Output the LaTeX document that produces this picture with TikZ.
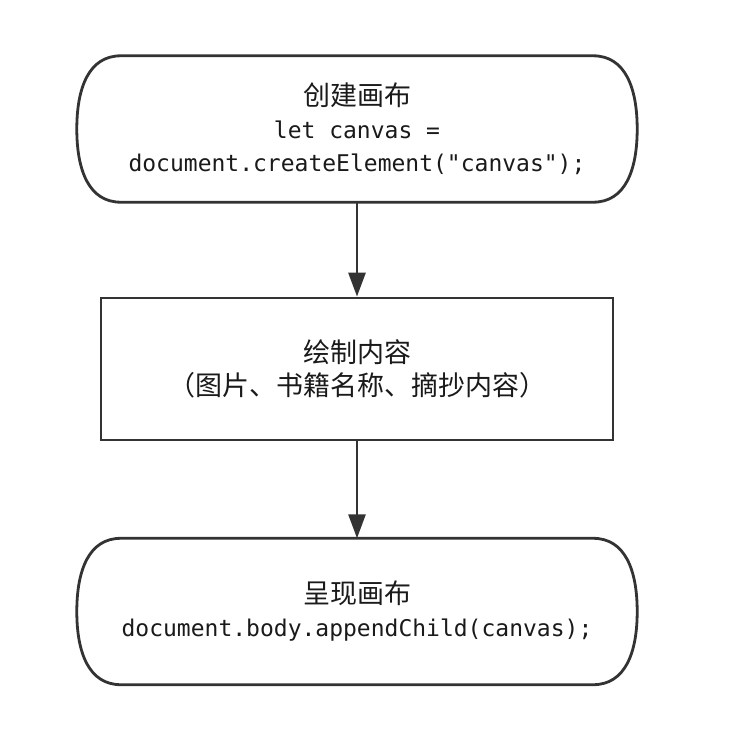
\documentclass[tikz,border=0pt]{standalone}
\usepackage{fontspec}
\usetikzlibrary{arrows.meta}
\newfontfamily\cjk{Noto Sans CJK SC}
\setmonofont{DejaVu Sans Mono}
\definecolor{stroke}{HTML}{333333}
\definecolor{ink}{HTML}{1A1A1A}
\tikzset{
  flowtext/.style={text=ink, align=center, font=\fontsize{23}{33}\selectfont\ttfamily, inner sep=0pt},
  terminal/.style={flowtext, minimum width=560pt, minimum height=146pt},
  procbox/.style={flowtext, draw=stroke, line width=2.8pt, minimum width=512pt, minimum height=142pt},
  flowline/.style={draw=stroke, line width=2.8pt, -{Triangle[length=24pt,width=17pt]}},
  outline/.style={draw=stroke, line width=2.8pt},
}
\newcommand{\cjkline}[1]{{\fontsize{27}{33}\selectfont\cjk #1}}
\newcommand{\terminalpath}[1]{%
  \draw[outline] ([xshift=44pt]#1.north west) -- ([xshift=-44pt]#1.north east)
    .. controls ([xshift=-12pt]#1.north east) and ([yshift=-32pt]#1.north east) .. (#1.east)
    .. controls ([yshift=32pt]#1.south east) and ([xshift=-12pt]#1.south east) .. ([xshift=-44pt]#1.south east)
    -- ([xshift=44pt]#1.south west)
    .. controls ([xshift=12pt]#1.south west) and ([yshift=32pt]#1.south west) .. (#1.west)
    .. controls ([yshift=-32pt]#1.north west) and ([xshift=12pt]#1.north west) .. cycle;}
\begin{document}
\begin{tikzpicture}[x=1pt,y=-1pt]
  \fill[white] (0,0) rectangle (729,736);
  \useasboundingbox (0,0) rectangle (729,736);
  \node[terminal] (create) at (357,129) {\cjkline{创建画布}\\let canvas =\\document.createElement("canvas");};
  \terminalpath{create}
  \node[procbox] (draw) at (357,369) {\cjkline{绘制内容}\\\cjkline{（图片、书籍名称、摘抄内容）}};
  \node[terminal] (show) at (357,611.5) {\cjkline{呈现画布}\\document.body.appendChild(canvas);};
  \terminalpath{show}
  \draw[flowline] (create.south) -- (draw.north);
  \draw[flowline] (draw.south) -- (show.north);
\end{tikzpicture}
\end{document}
